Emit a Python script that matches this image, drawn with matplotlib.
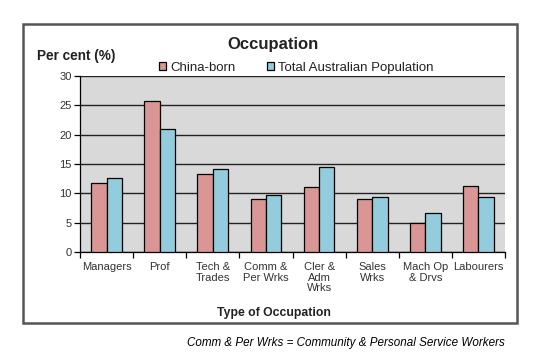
import matplotlib.pyplot as plt
from matplotlib.patches import Rectangle
import numpy as np

plt.rcParams['font.family'] = ['Liberation Sans', 'DejaVu Sans']

# Data
categories = ['Managers', 'Prof', 'Tech &\nTrades', 'Comm &\nPer Wrks', 'Cler &\nAdm\nWrks',
              'Sales\nWrks', 'Mach Op\n& Drvs', 'Labourers']
china_born = [11.8, 25.8, 13.3, 9.0, 11.1, 9.0, 4.9, 11.3]
total_aus = [12.6, 21.0, 14.1, 9.7, 14.5, 9.4, 6.6, 9.4]
series_names = ['China-born', 'Total Australian Population']

pink = '#d99694'
blue = '#93cddd'

fig = plt.figure(figsize=(5.49, 3.61), dpi=100)

# outer chart frame
fig.patches.append(Rectangle((23 / 549, 1 - 323 / 361), (517 - 23) / 549, (323 - 24) / 361,
                             transform=fig.transFigure, fill=False,
                             edgecolor='#555555', linewidth=1.8))

ax = fig.add_axes([80 / 549, 1 - 252 / 361, (505 - 80) / 549, (252 - 76) / 361])
ax.set_facecolor('#d9d9d9')

x = np.arange(len(categories))
w = 0.29
ax.bar(x - w / 2, china_born, w, color=pink, edgecolor='black', linewidth=0.9,
       label=series_names[0], zorder=3)
ax.bar(x + w / 2, total_aus, w, color=blue, edgecolor='black', linewidth=0.9,
       label=series_names[1], zorder=3)

ax.set_xlim(-0.5, len(categories) - 0.5)
ax.set_ylim(0, 30)
ax.set_yticks(range(0, 31, 5))
ax.yaxis.grid(True, color='#222222', linewidth=1.0, zorder=1)
ax.set_axisbelow(True)

ax.set_xticks(x)
ax.set_xticklabels(categories, fontsize=8, linespacing=1.1, color='#333333')
ax.tick_params(axis='x', length=0, pad=7)
ax.set_xticks(np.arange(-0.5, len(categories), 1), minor=True)
ax.tick_params(axis='x', which='minor', length=4, width=0.9, direction='out')
ax.tick_params(axis='y', labelsize=8, length=4, width=0.9, pad=2, labelcolor='#333333')

for s in ['top', 'right']:
    ax.spines[s].set_visible(False)
for s in ['left', 'bottom']:
    ax.spines[s].set_linewidth(0.9)

fig.text(273 / 549, 1 - 44 / 361, 'Occupation', ha='center', va='center',
         fontsize=12, fontweight='bold', color='#222222')
fig.text(37 / 549, 1 - 56 / 361, 'Per cent (%)', ha='left', va='center',
         fontsize=9.8, fontweight='bold', color='#222222')
fig.text(274 / 549, 1 - 313 / 361, 'Type of Occupation', ha='center', va='center',
         fontsize=8.8, fontweight='bold', color='#222222')
fig.text(346 / 549, 1 - 343 / 361, 'Comm & Per Wrks = Community & Personal Service Workers',
         ha='center', va='center', fontsize=8.4, style='italic')

ax.legend(loc='lower left', bbox_to_anchor=(159 / 549, 1 - 74 / 361),
          bbox_transform=fig.transFigure, ncol=2, frameon=False, fontsize=9.5,
          handlelength=0.55, handleheight=0.55, handletextpad=0.3, columnspacing=2.4,
          borderaxespad=0, borderpad=0, labelcolor='#222222')

fig.savefig('out.png', dpi=100)
